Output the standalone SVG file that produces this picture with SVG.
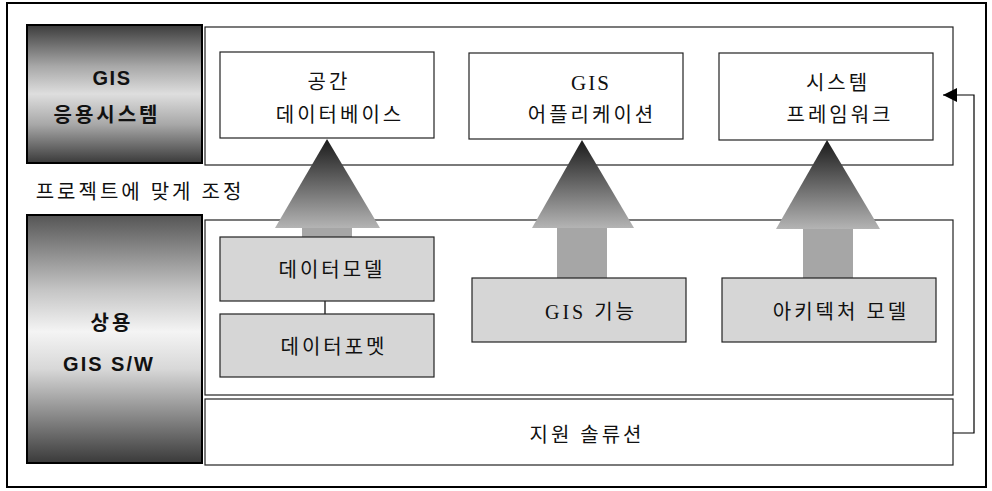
<svg xmlns="http://www.w3.org/2000/svg" width="992" height="491" viewBox="0 0 992 491">
<defs>
<linearGradient id="darkTop" x1="0" y1="0" x2="0" y2="1">
<stop offset="0" stop-color="#3c3c3c"/>
<stop offset="0.3" stop-color="#a8a8a8"/>
<stop offset="0.5" stop-color="#dedede"/>
<stop offset="0.72" stop-color="#a8a8a8"/>
<stop offset="1" stop-color="#3a3a3a"/>
</linearGradient>
<linearGradient id="darkBot" x1="0" y1="0" x2="0" y2="1">
<stop offset="0" stop-color="#555"/>
<stop offset="0.3" stop-color="#c4c4c4"/>
<stop offset="0.47" stop-color="#f4f4f4"/>
<stop offset="0.62" stop-color="#d8d8d8"/>
<stop offset="1" stop-color="#3a3a3a"/>
</linearGradient>
<linearGradient id="arrowGrad" x1="0" y1="0" x2="0" y2="1">
<stop offset="0" stop-color="#1a1a1a"/>
<stop offset="1" stop-color="#b4b4b4"/>
</linearGradient>
<marker id="ah" viewBox="0 0 10 10" refX="10" refY="5" markerUnits="userSpaceOnUse" markerWidth="18" markerHeight="14" orient="auto">
<path d="M0,0 L10,5 L0,10 z" fill="#000"/>
</marker>
</defs>
<style>
.frame{fill:#fff;stroke:#000;stroke-width:2}
.panel{fill:#fff;stroke:#222;stroke-width:1.2}
.box{fill:#fff;stroke:#222;stroke-width:1.2}
.gbox{fill:#d6d6d6;stroke:#222;stroke-width:1.2}
.dark{stroke:#000;stroke-width:2}
.lbl{font-family:"Liberation Serif","Noto Sans CJK KR",serif;font-size:20px;letter-spacing:3px;fill:#111;text-anchor:middle;dominant-baseline:central}
.lat{font-size:21px;letter-spacing:2px}
.blbl{font-family:"Liberation Sans","Noto Sans CJK KR",sans-serif;font-size:20px;font-weight:bold;letter-spacing:3px;fill:#111;text-anchor:middle;dominant-baseline:central}
.blat{letter-spacing:1.5px}
.tri{fill:url(#arrowGrad)}
.shaft{fill:#a6a6a6}
.conn{fill:none;stroke:#000;stroke-width:1.2}
</style>
<rect x="7" y="3" width="979" height="484" class="frame"/>
<g id="gis-app-system">
<rect x="27" y="25" width="175" height="138" fill="url(#darkTop)" class="dark"/>
<text x="112" y="78" class="blbl blat">GIS</text>
<text x="107" y="115" class="blbl">응용시스템</text>
</g>
<g id="commercial-gis">
<rect x="27" y="215" width="175" height="248" fill="url(#darkBot)" class="dark"/>
<text x="112" y="323" class="blbl">상용</text>
<text x="109" y="364" class="blbl" style="letter-spacing:2px">GIS S/W</text>
</g>
<g id="adjust-label">
<text x="140" y="192" class="lbl">프로젝트에 맞게 조정</text>
</g>
<g id="top-panel">
<rect x="205" y="27" width="748" height="138" class="panel"/>
</g>
<g id="bottom-panel">
<rect x="205" y="220" width="748" height="175" class="panel"/>
</g>
<g id="support-solution">
<rect x="205" y="399" width="748" height="66" class="panel"/>
<text x="587" y="435" class="lbl">지원 솔류션</text>
</g>
<g id="spatial-db">
<rect x="220" y="52" width="214" height="86" class="box"/>
<text x="329" y="82" class="lbl">공간</text>
<text x="340" y="115" class="lbl">데이터베이스</text>
</g>
<g id="gis-application">
<rect x="469" y="53" width="214" height="86" class="box"/>
<text x="591" y="83" class="lbl lat">GIS</text>
<text x="592" y="115" class="lbl">어플리케이션</text>
</g>
<g id="system-framework">
<rect x="719" y="53" width="214" height="87" class="box"/>
<text x="838" y="83" class="lbl">시스템</text>
<text x="840" y="115" class="lbl">프레임워크</text>
</g>
<g id="connectors">
<polygon class="tri" points="327,139 380,228 275,228"/>
<rect class="shaft" x="302" y="228" width="50" height="9"/>
<polygon class="tri" points="582,140 634,228 532,228"/>
<rect class="shaft" x="557" y="228" width="50" height="50"/>
<polygon class="tri" points="827,140 880,229 776,229"/>
<rect class="shaft" x="803" y="229" width="50" height="49"/>
<line class="conn" x1="325" y1="301" x2="325" y2="314"/>
<polyline class="conn" points="953,433 974,433 974,95 943,95" marker-end="url(#ah)"/>
</g>
<g id="data-model">
<rect x="220" y="237" width="214" height="64" class="gbox"/>
<text x="332" y="270" class="lbl">데이터모델</text>
</g>
<g id="data-format">
<rect x="220" y="314" width="214" height="63" class="gbox"/>
<text x="334" y="347" class="lbl">데이터포멧</text>
</g>
<g id="gis-function">
<rect x="472" y="278" width="214" height="64" class="gbox"/>
<text x="591" y="312" class="lbl">GIS 기능</text>
</g>
<g id="architecture-model">
<rect x="722" y="278" width="214" height="64" class="gbox"/>
<text x="841" y="312" class="lbl">아키텍처 모델</text>
</g>
</svg>
